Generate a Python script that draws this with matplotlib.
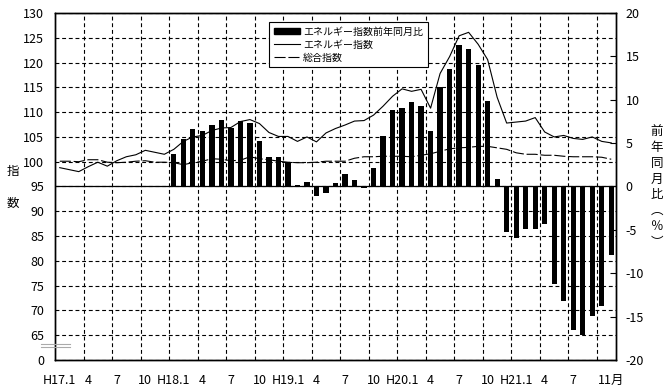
import numpy as np
import matplotlib
matplotlib.use("Agg")
import matplotlib.pyplot as plt
from matplotlib.patches import Patch
from matplotlib.lines import Line2D

plt.rcParams['font.family'] = ['Noto Sans CJK JP', 'DejaVu Sans']

# ---- data ----
energy_index = [98.8, 98.4, 98.0, 99.0, 99.9, 99.1, 100.2, 101.0, 101.4, 102.3, 101.9, 101.5, 102.5, 104.1, 105.0,
                105.3, 106.3, 106.8, 106.9, 108.1, 108.5, 107.7, 105.9, 105.1, 105.1, 104.1, 105.0, 104.0, 105.8, 106.7,
                107.4, 108.2, 108.3, 109.4, 111.2, 113.2, 114.7, 114.2, 114.6, 110.8, 117.8, 121.2, 125.4, 126.1, 123.7,
                120.6, 113.0, 107.8, 108.0, 108.2, 108.9, 106.0, 105.0, 105.3, 104.7, 104.5, 105.0, 104.1, 103.8]
total_index = [100.1, 100.1, 100.0, 100.4, 100.4, 99.9, 99.8, 99.9, 100.1, 100.2, 99.9, 99.9, 99.8, 99.4, 99.8,
               100.1, 100.6, 100.5, 100.2, 100.3, 101.0, 100.6, 100.4, 100.1, 99.9, 99.8, 99.8, 99.9, 100.1, 100.1,
               100.1, 100.7, 101.0, 101.0, 101.1, 101.1, 101.1, 101.0, 101.3, 101.6, 102.1, 102.6, 102.8, 102.9, 103.1,
               103.1, 102.8, 102.5, 101.8, 101.5, 101.5, 101.3, 101.3, 101.1, 101.0, 101.0, 101.0, 100.9, 100.5]
# 前年同月比 (%), from H18.1 onward
energy_yoy = [3.7, 5.5, 6.6, 6.4, 7.1, 7.7, 6.7, 7.6, 7.3, 5.3,
              3.4, 3.4, 2.8, 0.2, 0.5, -1.1, -0.7, 0.4, 1.4, 0.7,
              -0.15, 2.1, 5.8, 8.8, 9.1, 9.7, 9.25, 6.4, 11.5, 13.6,
              16.3, 15.9, 14.0, 9.9, 0.9, -5.3, -5.95, -4.9, -4.9, -4.3,
              -11.25, -13.2, -16.5, -17.1, -14.9, -13.8, -7.95]
yoy_start = 12  # H18.1
x_tick_months = [0, 3, 6, 9, 12, 15, 18, 21, 24, 27, 30, 33, 36, 39, 42, 45, 48, 51, 54, 58]
x_tick_labels = ['H17.1', '4', '7', '10', 'H18.1', '4', '7', '10', 'H19.1', '4', '7', '10',
                 'H20.1', '4', '7', '10', 'H21.1', '4', '7', '11月']
left_ticks = list(range(60, 131, 5))
left_tick_labels = ['0'] + [str(v) for v in range(65, 131, 5)]
right_ticks = list(range(-20, 21, 5))

n = len(energy_index)
xc = np.arange(n) + 0.5
xb = np.arange(yoy_start, yoy_start + len(energy_yoy)) + 0.5

fig = plt.figure(figsize=(6.66, 3.91), dpi=100)
ax = fig.add_axes([55/666, 31/391, 561/666, 347/391])
ax2 = ax.twinx()
ax.set_zorder(ax2.get_zorder() + 1)
ax.patch.set_visible(False)

fs = 9
# bars on right axis
ax2.bar(xb, energy_yoy, width=0.55, color='black', zorder=2)
ax2.axhline(0, color='black', lw=0.9, zorder=3)
ax2.set_ylim(-20, 20)
ax2.set_yticks(right_ticks)
ax2.set_yticklabels([str(v) for v in right_ticks], fontsize=fs)
ax2.tick_params(axis='y', direction='in', length=4, width=0.8, pad=7)

# lines on left axis
ax.plot(xc, energy_index, color='black', lw=0.8, zorder=4)
ax.plot(xc, total_index, color='black', lw=0.8, linestyle=(0, (10, 2.5)), zorder=4)
ax.set_xlim(0, n)
ax.set_ylim(60, 130)
ax.set_yticks(left_ticks)
ax.set_yticklabels(left_tick_labels, fontsize=fs)
ax.tick_params(axis='y', length=0, pad=8)
ax.set_xticks(np.array(x_tick_months) + 0.5)
ax.set_xticklabels(x_tick_labels, fontsize=fs)
ax.tick_params(axis='x', which='both', length=0, pad=10)
ax.set_xticks(np.arange(3, n - 1, 3), minor=True)
ax.grid(True, axis='y', which='major', color='black', lw=0.8, linestyle=(0, (3.5, 2.5)))
ax.grid(True, axis='x', which='minor', color='black', lw=0.8, linestyle=(0, (3.5, 2.5)))
for a in (ax, ax2):
    for s in a.spines.values():
        s.set_linewidth(1.0)
        s.set_color('black')

# axis break mark
fig.add_artist(Line2D([41/666, 70/666], [1-344/391, 1-344/391], color='#aaaaaa', lw=0.8))
fig.add_artist(Line2D([41/666, 70/666], [1-347/391, 1-347/391], color='#aaaaaa', lw=0.8))

# axis labels (vertical)
fig.text(13/666, 1-187/391, '指\n\n数', fontsize=fs, ha='center', va='center', linespacing=1.3)
fig.text(657/666, 1-187/391, '前\n年\n同\n月\n比\n︵\n％\n︶', fontsize=fs, ha='center', va='center',
         linespacing=1.28)

# legend
lfs = 7.2
handles = [Patch(facecolor='black', edgecolor='black'),
           Line2D([], [], color='black', lw=0.8),
           Line2D([], [], color='black', lw=0.8, linestyle=(0, (10, 2.5)))]
labels = ['エネルギー指数前年同月比', 'エネルギー指数', '総合指数']
leg = ax.legend(handles, labels, loc='upper left', bbox_to_anchor=(269/666, 1-22/391),
                bbox_transform=fig.transFigure, fontsize=lfs, frameon=True, fancybox=False,
                edgecolor='black', framealpha=1, borderaxespad=0, borderpad=0.45,
                handlelength=2.6, handleheight=0.6, handletextpad=0.35, labelspacing=0.3)
leg.get_frame().set_linewidth(0.8)

fig.savefig('out.png', dpi=100, facecolor='white')
